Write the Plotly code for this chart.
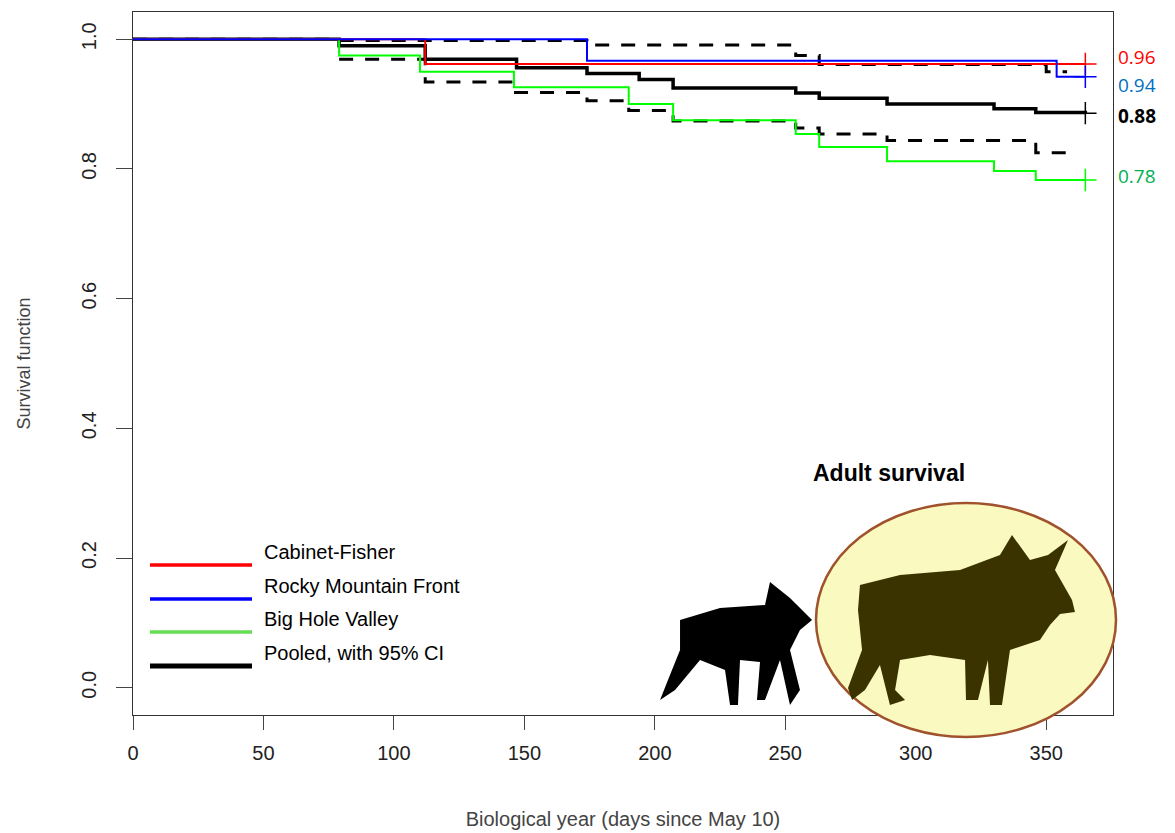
import plotly.graph_objects as go

# ---- data ----
red_t = [0, 112, 365]
red_s = [1.0, 0.962, 0.962]
blue_t = [0, 174, 354, 365]
blue_s = [1.0, 0.967, 0.942, 0.942]
green_t = [0, 79, 110, 146, 190, 207, 254, 263, 289, 330, 346, 365]
green_s = [1.0, 0.975, 0.950, 0.926, 0.900, 0.875, 0.854, 0.834, 0.812, 0.797, 0.783, 0.783]
pool_t = [0, 79, 112, 147, 174, 194, 207, 254, 263, 289, 330, 346, 365]
pool_s = [1.0, 0.990, 0.969, 0.956, 0.947, 0.938, 0.925, 0.917, 0.909, 0.900, 0.893, 0.887, 0.886]
up_t = [0, 79, 174, 254, 263, 350, 358]
up_s = [1.0, 0.998, 0.991, 0.975, 0.961, 0.950, 0.950]
lo_t = [79, 112, 146, 174, 190, 207, 254, 263, 289, 346, 358]
lo_s = [0.969, 0.934, 0.918, 0.905, 0.890, 0.874, 0.863, 0.854, 0.844, 0.825, 0.825]
end_labels = ["0.96", "0.94", "0.88", "0.78"]
end_label_y = [0.973, 0.929, 0.881, 0.789]
end_colors = ["#ff0000", "#0070c0", "#000000", "#00b050"]
legend_names = ["Cabinet-Fisher", "Rocky Mountain Front", "Big Hole Valley", "Pooled, with 95% CI"]
legend_colors = ["#ff0000", "#0000ff", "#66dd55", "#000000"]
xticks = [0, 50, 100, 150, 200, 250, 300, 350]
yticks = [0.0, 0.2, 0.4, 0.6, 0.8, 1.0]

fig = go.Figure()
def step(t, s, color, width=2, dash="solid"):
    fig.add_trace(go.Scatter(x=t, y=s, mode="lines", line=dict(color=color, width=width, dash=dash, shape="hv"),
                             showlegend=False, hoverinfo="skip"))
step(up_t, up_s, "black", 3, "14px,12px")
step(lo_t, lo_s, "black", 3, "14px,12px")
step(pool_t, pool_s, "black", 3.5)
step(green_t, green_s, "#00ff00", 2)
step(red_t, red_s, "#ff0000", 2)
step(blue_t, blue_s, "#0000ff", 2)
for t, s, c in [(red_t, red_s, "#ff0000"), (blue_t, blue_s, "#0000ff"), (pool_t, pool_s, "black"), (green_t, green_s, "#00ff00")]:
    fig.add_trace(go.Scatter(x=[t[-1]], y=[s[-1]], mode="markers",
                             marker=dict(symbol="cross-thin", size=16, line=dict(color=c, width=1.5)),
                             showlegend=False, hoverinfo="skip"))

OFF = 8  # page body margin
W, H = 1175, 833
L, T = 133 - OFF, 12 - OFF
R = W - L - 980
B = H - (715 - OFF)
pw, ph = W - L - R, H - T - B
def P(px, py):
    return (px - OFF - L) / pw, (H - B - (py - OFF)) / ph
def path(pts):
    q = [P(*p) for p in pts]
    return "M " + " L ".join(f"{a:.4f},{b:.4f}" for a, b in q) + " Z"

shapes = []
x0, y0 = P(816, 737); x1, y1 = P(1116, 503)
shapes.append(dict(type="circle", xref="paper", yref="paper", x0=x0, y0=y0, x1=x1, y1=y1,
                   fillcolor="#fafac0", line=dict(color="#a0522d", width=2.5), layer="above"))
adult = [(860,585),(900,575),(960,570),(1000,555),(1012,535),(1030,560),(1048,555),(1068,540),(1055,570),(1072,600),(1075,612),
         (1060,614),(1050,625),(1040,640),(1010,650),(1002,705),(990,705),(988,660),(978,700),(966,700),(965,660),(930,655),(900,660),
         (895,690),(905,700),(890,705),(880,665),(865,690),(852,700),(848,688),(862,650),(858,610)]
calf = [(680,620),(720,608),(765,605),(770,582),(790,598),(812,620),(800,630),(790,650),(800,690),(790,705),(780,660),
        (765,700),(757,700),(760,662),(740,660),(738,705),(730,705),(725,670),(700,660),(675,690),(660,700),(668,680),(680,650)]
shapes.append(dict(type="path", xref="paper", yref="paper", path=path(adult), fillcolor="#3a3300", line=dict(width=0), layer="above"))
shapes.append(dict(type="path", xref="paper", yref="paper", path=path(calf), fillcolor="black", line=dict(width=0), layer="above"))

anns = []
ly = [565, 599, 632, 666]
for i, (n, c) in enumerate(zip(legend_names, legend_colors)):
    a0, b0 = P(150, ly[i]); a1, _ = P(252, ly[i]); a2, _ = P(262, ly[i])
    shapes.append(dict(type="line", xref="paper", yref="paper", x0=a0, x1=a1, y0=b0, y1=b0,
                       line=dict(color=c, width=5 if i == 3 else 3.5)))
    anns.append(dict(xref="paper", yref="paper", x=a2, y=b0, text=n, showarrow=False, xanchor="left",
                     font=dict(size=20, color="black", family="Liberation Sans, Arial")))
for lab, yv, c in zip(end_labels, end_label_y, end_colors):
    anns.append(dict(xref="paper", yref="y", x=P(1116, 0)[0], y=yv, text=f"<b>{lab}</b>" if lab == "0.88" else lab,
                     showarrow=False, xanchor="left", font=dict(size=19, color=c, family="Open Sans, sans-serif")))
ax_, ay_ = P(967, 473)
anns.append(dict(xref="paper", yref="paper", x=ax_, y=ay_, text="<b>Adult survival</b>", showarrow=False,
                 font=dict(size=23, color="black", family="Liberation Sans, Arial")))

fig.update_layout(width=W, height=H, margin=dict(l=L, r=R, t=T, b=B), plot_bgcolor="white", paper_bgcolor="white",
                  shapes=shapes, annotations=anns, font=dict(family="Liberation Sans, Arial", color="#333"))
fig.update_xaxes(range=[0, 375.6], tickvals=xticks, ticks="outside", ticklen=14, showgrid=False, zeroline=False,
                 showline=True, linecolor="#333", mirror=True, tickfont=dict(size=20, color="#222"), ticklabelstandoff=6,
                 title=dict(text="Biological year (days since May 10)", font=dict(size=20, color="#444"), standoff=48))
fig.update_yaxes(range=[-0.042, 1.042], tickvals=yticks, ticktext=[f"{v:.1f}" for v in yticks], tickangle=-90,
                 ticks="outside", ticklen=16, showgrid=False, zeroline=False, showline=True, linecolor="#333", mirror=True,
                 tickfont=dict(size=20, color="#222"), ticklabelstandoff=12,
                 title=dict(text="Survival function", font=dict(size=18, color="#444"), standoff=42))
fig.write_html("out.html")
